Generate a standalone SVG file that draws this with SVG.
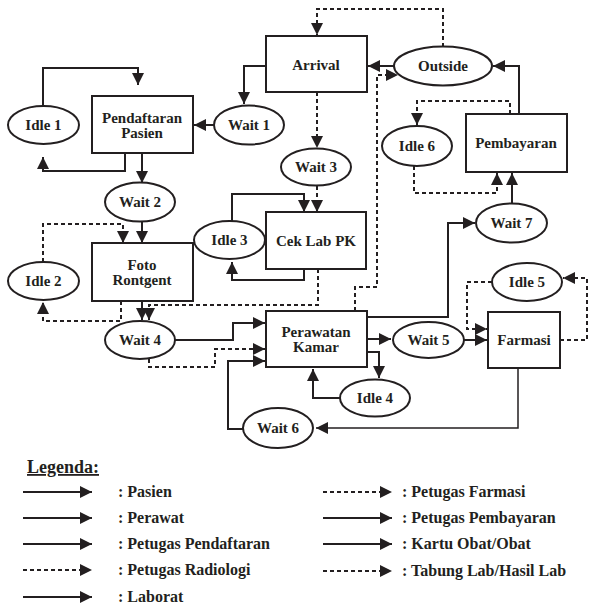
<svg xmlns="http://www.w3.org/2000/svg" width="589" height="608" viewBox="0 0 589 608">
<style>
.n rect,.n ellipse{fill:#fff;stroke:#231f20;stroke-width:2}
text{font-family:"Liberation Serif","Times New Roman",serif;font-weight:bold;fill:#231f20}
.n text{font-size:15px;text-anchor:middle}
.lg{font-size:16px}
.s,.d{fill:none;stroke:#231f20;stroke-width:2;marker-end:url(#ah)}
.d{stroke-dasharray:4 3}
.t{stroke-width:1.5}
</style>
<defs>
<marker id="ah" markerUnits="userSpaceOnUse" markerWidth="12" markerHeight="12" refX="12" refY="6" orient="auto">
<path d="M0,0 L12,6 L0,12 z" fill="#231f20"/>
</marker>
</defs>
<rect width="589" height="608" fill="#fff"/>
<g id="connectors">
<path class="s" d="M266,66 H244 V104"/>
<path class="s" d="M214,125 H194"/>
<path class="s" d="M43,106 V68 H138 V85"/>
<path class="s" d="M125,153 V171 H43 V157"/>
<path class="s" d="M142,153 V183"/>
<path class="s" d="M142,222 V243"/>
<path class="d" d="M43,262 V224 H123 V243"/>
<path class="d" d="M121,301 V321 H43 V302"/>
<path class="s" d="M142,301 V320"/>
<path class="d" d="M318,269 V305 H149 V320"/>
<path class="d" d="M317,92 V148"/>
<path class="d" d="M317,186 V212"/>
<path class="s" d="M232,221 V194 H304 V212"/>
<path class="s" d="M304,269 V280 H232 V262"/>
<path class="d" d="M355,311 V287 H377 V75 H398"/>
<path class="s" d="M394,66 H368"/>
<path class="d" d="M443,47 V9 H317 V35"/>
<path class="s" d="M519,114 V66 H493"/>
<path class="d" d="M510,114 V101 H417 V125"/>
<path class="d" d="M414,166 V193 H497 V173"/>
<path class="s" d="M512,203 V173"/>
<path class="s" d="M367,317 H448 V223 H475"/>
<path class="s" d="M175,340 H233 V323 H265"/>
<path class="d" d="M149,359 V367 H215 V349 H265"/>
<path class="s" d="M243,429 H228 V361 H265"/>
<path class="s t" d="M518,368 V428 H316"/>
<path class="s" d="M367,339 H391"/>
<path class="s" d="M464,340 H487"/>
<path class="s" d="M367,352 H379 V378"/>
<path class="s" d="M340,398 H313 V369"/>
<path class="d" d="M560,340 H587 V278 H563"/>
<path class="d" d="M492,282 H467 V329 H487"/>
</g>
<g id="arrival" class="n"><rect x="266" y="36" width="101" height="56"/><text x="316" y="70">Arrival</text></g>
<g id="outside" class="n"><ellipse cx="443" cy="66" rx="49" ry="19.5"/><text x="443" y="71">Outside</text></g>
<g id="pendaftaran" class="n"><rect x="92" y="96" width="101" height="57"/><text x="142" y="123">Pendaftaran</text><text x="142" y="138">Pasien</text></g>
<g id="idle1" class="n"><ellipse cx="43.5" cy="125" rx="35.5" ry="19"/><text x="43.5" y="130">Idle 1</text></g>
<g id="wait1" class="n"><ellipse cx="249" cy="125" rx="35" ry="19.5"/><text x="249" y="130">Wait 1</text></g>
<g id="wait2" class="n"><ellipse cx="140" cy="202" rx="35" ry="19.5"/><text x="140" y="207">Wait 2</text></g>
<g id="wait3" class="n"><ellipse cx="316" cy="167" rx="35" ry="18.5"/><text x="316" y="172">Wait 3</text></g>
<g id="idle3" class="n"><ellipse cx="229.5" cy="240" rx="35.5" ry="19"/><text x="229.5" y="245">Idle 3</text></g>
<g id="ceklab" class="n"><rect x="266" y="212" width="100" height="57"/><text x="316" y="246">Cek Lab PK</text></g>
<g id="foto" class="n"><rect x="92" y="243" width="101" height="58"/><text x="142" y="270">Foto</text><text x="142" y="285">Rontgent</text></g>
<g id="idle2" class="n"><ellipse cx="43.5" cy="281" rx="35.5" ry="19"/><text x="43.5" y="286">Idle 2</text></g>
<g id="wait4" class="n"><ellipse cx="140" cy="340" rx="35" ry="19"/><text x="140" y="345">Wait 4</text></g>
<g id="perawatan" class="n"><rect x="266" y="311" width="101" height="56"/><text x="316" y="337">Perawatan</text><text x="316" y="352">Kamar</text></g>
<g id="wait5" class="n"><ellipse cx="428.5" cy="340" rx="35.5" ry="18"/><text x="428.5" y="345">Wait 5</text></g>
<g id="farmasi" class="n"><rect x="488" y="312" width="72" height="56"/><text x="524" y="345">Farmasi</text></g>
<g id="idle4" class="n"><ellipse cx="375" cy="398" rx="35" ry="18.5"/><text x="375" y="403">Idle 4</text></g>
<g id="idle5" class="n"><ellipse cx="527" cy="282" rx="35" ry="19"/><text x="527" y="287">Idle 5</text></g>
<g id="wait7" class="n"><ellipse cx="511.5" cy="223" rx="35.5" ry="19.5"/><text x="511.5" y="228">Wait 7</text></g>
<g id="wait6" class="n"><ellipse cx="278" cy="428" rx="35" ry="20"/><text x="278" y="433">Wait 6</text></g>
<g id="idle6" class="n"><ellipse cx="417" cy="146" rx="35" ry="20"/><text x="417" y="151">Idle 6</text></g>
<g id="pembayaran" class="n"><rect x="466" y="114" width="101" height="58"/><text x="516" y="148">Pembayaran</text></g>
<g id="legend">
<text x="27" y="473" font-size="18" text-decoration="underline">Legenda:</text>
<path class="s" d="M23,492 H92"/><text class="lg" x="118" y="497">: Pasien</text>
<path class="s" d="M23,518 H92"/><text class="lg" x="118" y="523">: Perawat</text>
<path class="s" d="M23,544 H92"/><text class="lg" x="118" y="549">: Petugas Pendaftaran</text>
<path class="d" d="M23,570 H92"/><text class="lg" x="118" y="575">: Petugas Radiologi</text>
<path class="s" d="M23,597 H92"/><text class="lg" x="118" y="602">: Laborat</text>
<path class="d" d="M323,492 H392"/><text class="lg" x="402" y="497">: Petugas Farmasi</text>
<path class="s" d="M323,518 H392"/><text class="lg" x="402" y="523">: Petugas Pembayaran</text>
<path class="s" d="M323,544 H392"/><text class="lg" x="402" y="549">: Kartu Obat/Obat</text>
<path class="d" d="M323,571 H392"/><text class="lg" x="402" y="576">: Tabung Lab/Hasil Lab</text>
</g>
</svg>
